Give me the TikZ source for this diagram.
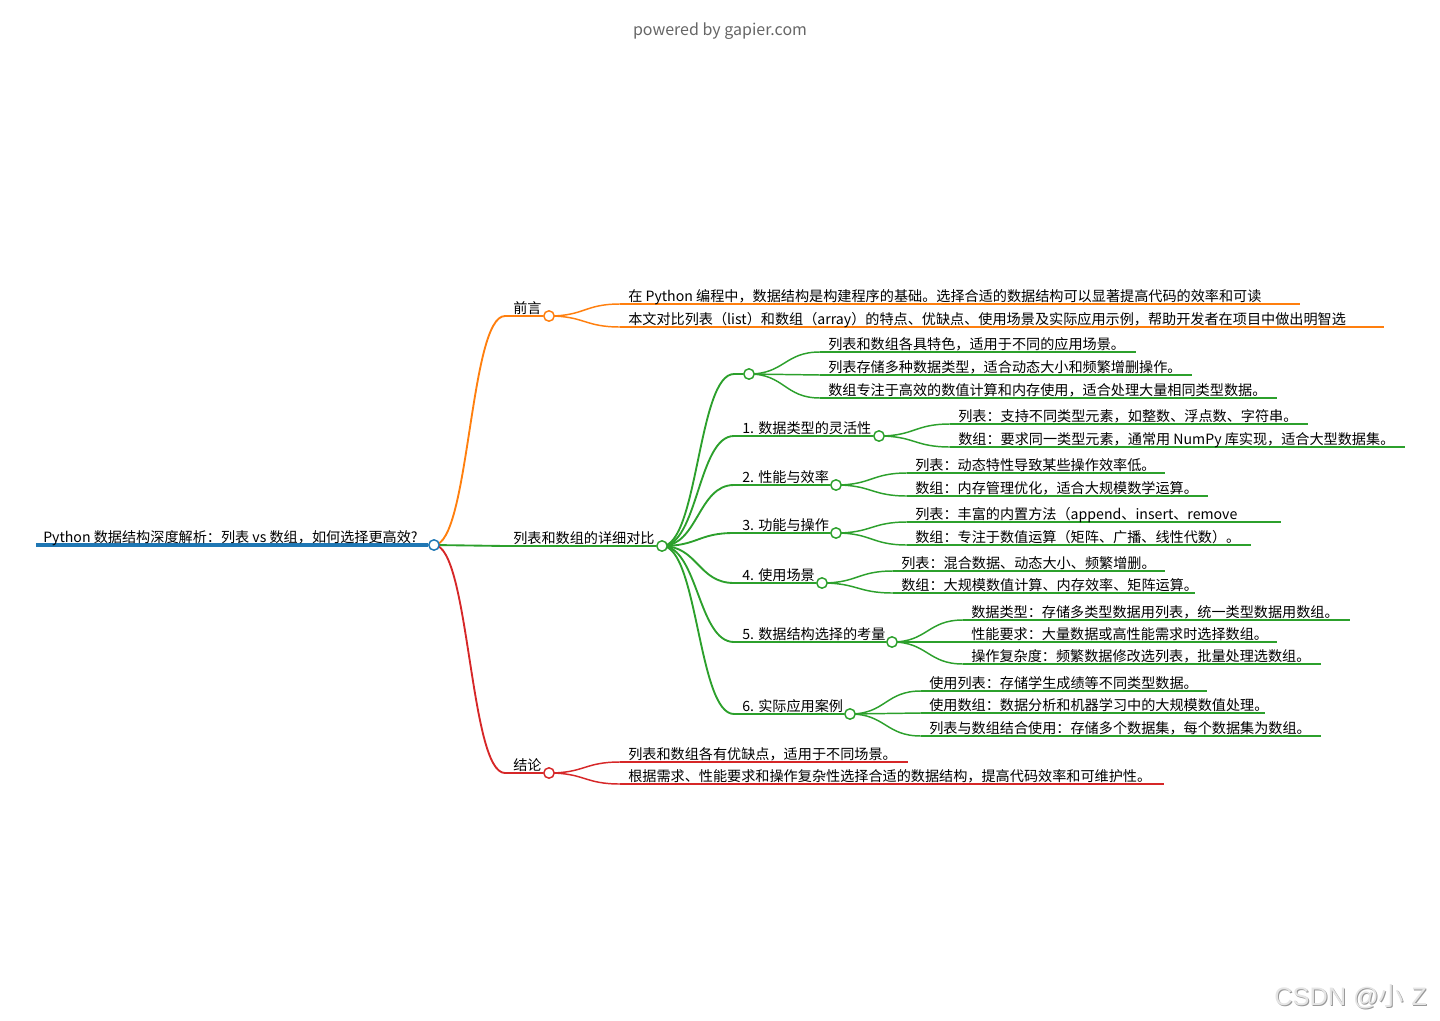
\documentclass[tikz,border=0pt]{standalone}
\usepackage{fontspec}
\setmainfont{Noto Sans CJK SC}
\newfontfamily\wmfont{Liberation Sans}
\newfontfamily\cjk{Noto Sans CJK SC}
\usetikzlibrary{calc,backgrounds}

\definecolor{mmblue}{HTML}{1F77B4}
\definecolor{mmorange}{HTML}{FF7F0E}
\definecolor{mmgreen}{HTML}{2CA02C}
\definecolor{mmred}{HTML}{D62728}

\tikzset{
  mmtext/.style={anchor=base west, inner sep=0pt, font=\fontsize{10.6}{12}\selectfont},
  mmdot/.style={circle, draw=#1, fill=white, line width=1.1pt, minimum size=7.8pt, inner sep=0pt},
  mmline/.style={draw=#1, line width=1.1pt},
}

% curved link from a parent dot to the start of a child's underline
\newcommand{\mmlink}[3][]{%
  \draw[#1] let \p1=(#2), \p2=(#3) in
    (\p1) .. controls ({(\x1+\x2)/2},\y1) and ({(\x1+\x2)/2},\y2) .. (\p2);}

% inner node: parent, name, start x, y, dot x, colour, text
\newcommand{\mmbranch}[7]{%
  \node[mmdot=#6] (#2) at (#5,#4) {};
  \coordinate (#2-s) at (#3,#4);
  \node[mmtext] (#2-t) at ($(#2-s)+(8,-2.8)$) {#7};
  \begin{scope}[on background layer]
    \mmlink[mmline=#6, line width=1.4pt]{#1}{#2-s}
    \draw[mmline=#6, line width=1.4pt] (#2-s) -- (#2);
  \end{scope}}

% leaf: parent, name, start x, y, end x, colour, text
\newcommand{\mmleaf}[7]{%
  \coordinate (#2-s) at (#3,#4);
  \coordinate (#2-e) at (#5,#4);
  \node[mmtext] (#2) at ($(#2-s)+(8,-2.8)$) {#7};
  \begin{scope}[on background layer]
    \mmlink[mmline=#6]{#1}{#2-s}
    \draw[mmline=#6] (#2-s) -- (#2-e);
  \end{scope}}

\begin{document}
\begin{tikzpicture}[x=0.75pt, y=-0.75pt]
  \useasboundingbox (0,0) rectangle (1440,1021);

  \node[anchor=base, text=black!60, font=\fontsize{12}{14}\selectfont] (pw) at (720,35) {powered by gapier.com};

  % root
  \node[mmdot=mmblue] (root) at (434,545) {};
  \coordinate (root-s) at (36,545);
  \node[mmtext] (root-t) at (43,542) {Python 数据结构深度解析：列表 vs 数组，如何选择更高效?};
  \begin{scope}[on background layer]
    \draw[mmline=mmblue, line width=3pt] (root-s) -- (root);
  \end{scope}

  % first level
  \mmbranch{root}{qy}{505}{316}{549}{mmorange}{前言}
  \mmbranch{root}{db}{505}{546}{662}{mmgreen}{列表和数组的详细对比}
  \mmbranch{root}{jl}{505}{773}{549}{mmred}{结论}

  \foreach \nm/\yy/\xe/\txt in {
      qy1/304/1300/{在 Python 编程中，数据结构是构建程序的基础。选择合适的数据结构可以显著提高代码的效率和可读},
      qy2/327/1384/{本文对比列表（list）和数组（array）的特点、优缺点、使用场景及实际应用示例，帮助开发者在项目中做出明智选}}
    {\mmleaf{qy}{\nm}{620}{\yy}{\xe}{mmorange}{\txt}}

  % second level
  \foreach \nm/\yy/\xc/\txt in {
      d0/374/749/{},
      d1/436/879/{1. 数据类型的灵活性},
      d2/485/836/{2. 性能与效率},
      d3/533/836/{3. 功能与操作},
      d4/583/822/{4. 使用场景},
      d5/642/892/{5. 数据结构选择的考量},
      d6/714/850/{6. 实际应用案例}}
    {\mmbranch{db}{\nm}{734}{\yy}{\xc}{mmgreen}{\txt}}

  \foreach \nm/\yy/\xe/\txt in {
      d01/352/1136/{列表和数组各具特色，适用于不同的应用场景。},
      d02/375/1192/{列表存储多种数据类型，适合动态大小和频繁增删操作。},
      d03/398/1277/{数组专注于高效的数值计算和内存使用，适合处理大量相同类型数据。}}
    {\mmleaf{d0}{\nm}{820}{\yy}{\xe}{mmgreen}{\txt}}

  \foreach \nm/\yy/\xe/\txt in {
      d11/424/1308/{列表：支持不同类型元素，如整数、浮点数、字符串。},
      d12/447/1405/{数组：要求同一类型元素，通常用 NumPy 库实现，适合大型数据集。}}
    {\mmleaf{d1}{\nm}{950}{\yy}{\xe}{mmgreen}{\txt}}

  \foreach \nm/\yy/\xe/\txt in {
      d21/473/1165/{列表：动态特性导致某些操作效率低。},
      d22/496/1208/{数组：内存管理优化，适合大规模数学运算。}}
    {\mmleaf{d2}{\nm}{907}{\yy}{\xe}{mmgreen}{\txt}}

  \foreach \nm/\yy/\xe/\txt in {
      d31/522/1281/{列表：丰富的内置方法（append、insert、remove},
      d32/545/1251/{数组：专注于数值运算（矩阵、广播、线性代数）。}}
    {\mmleaf{d3}{\nm}{907}{\yy}{\xe}{mmgreen}{\txt}}

  \foreach \nm/\yy/\xe/\txt in {
      d41/571/1165/{列表：混合数据、动态大小、频繁增删。},
      d42/593/1195/{数组：大规模数值计算、内存效率、矩阵运算。}}
    {\mmleaf{d4}{\nm}{893}{\yy}{\xe}{mmgreen}{\txt}}

  \foreach \nm/\yy/\xe/\txt in {
      d51/620/1350/{数据类型：存储多类型数据用列表，统一类型数据用数组。},
      d52/642/1277/{性能要求：大量数据或高性能需求时选择数组。},
      d53/664/1321/{操作复杂度：频繁数据修改选列表，批量处理选数组。}}
    {\mmleaf{d5}{\nm}{963}{\yy}{\xe}{mmgreen}{\txt}}

  \foreach \nm/\yy/\xe/\txt in {
      d61/691/1207/{使用列表：存储学生成绩等不同类型数据。},
      d62/713/1265/{使用数组：数据分析和机器学习中的大规模数值处理。},
      d63/736/1321/{列表与数组结合使用：存储多个数据集，每个数据集为数组。}}
    {\mmleaf{d6}{\nm}{921}{\yy}{\xe}{mmgreen}{\txt}}

  \foreach \nm/\yy/\xe/\txt in {
      jl1/762/908/{列表和数组各有优缺点，适用于不同场景。},
      jl2/784/1164/{根据需求、性能要求和操作复杂性选择合适的数据结构，提高代码效率和可维护性。}}
    {\mmleaf{jl}{\nm}{620}{\yy}{\xe}{mmred}{\txt}}

  % watermark
  \node[anchor=base east, inner sep=0pt, text=black!40, font=\wmfont\fontsize{19}{21}\selectfont] (wm-sh) at (1428,1006) {CSDN @{\cjk 小} Z};
  \node[anchor=base east, inner sep=0pt, text=black!10, font=\wmfont\fontsize{19}{21}\selectfont] (wm) at (1427,1005) {CSDN @{\cjk 小} Z};
\end{tikzpicture}
\end{document}
